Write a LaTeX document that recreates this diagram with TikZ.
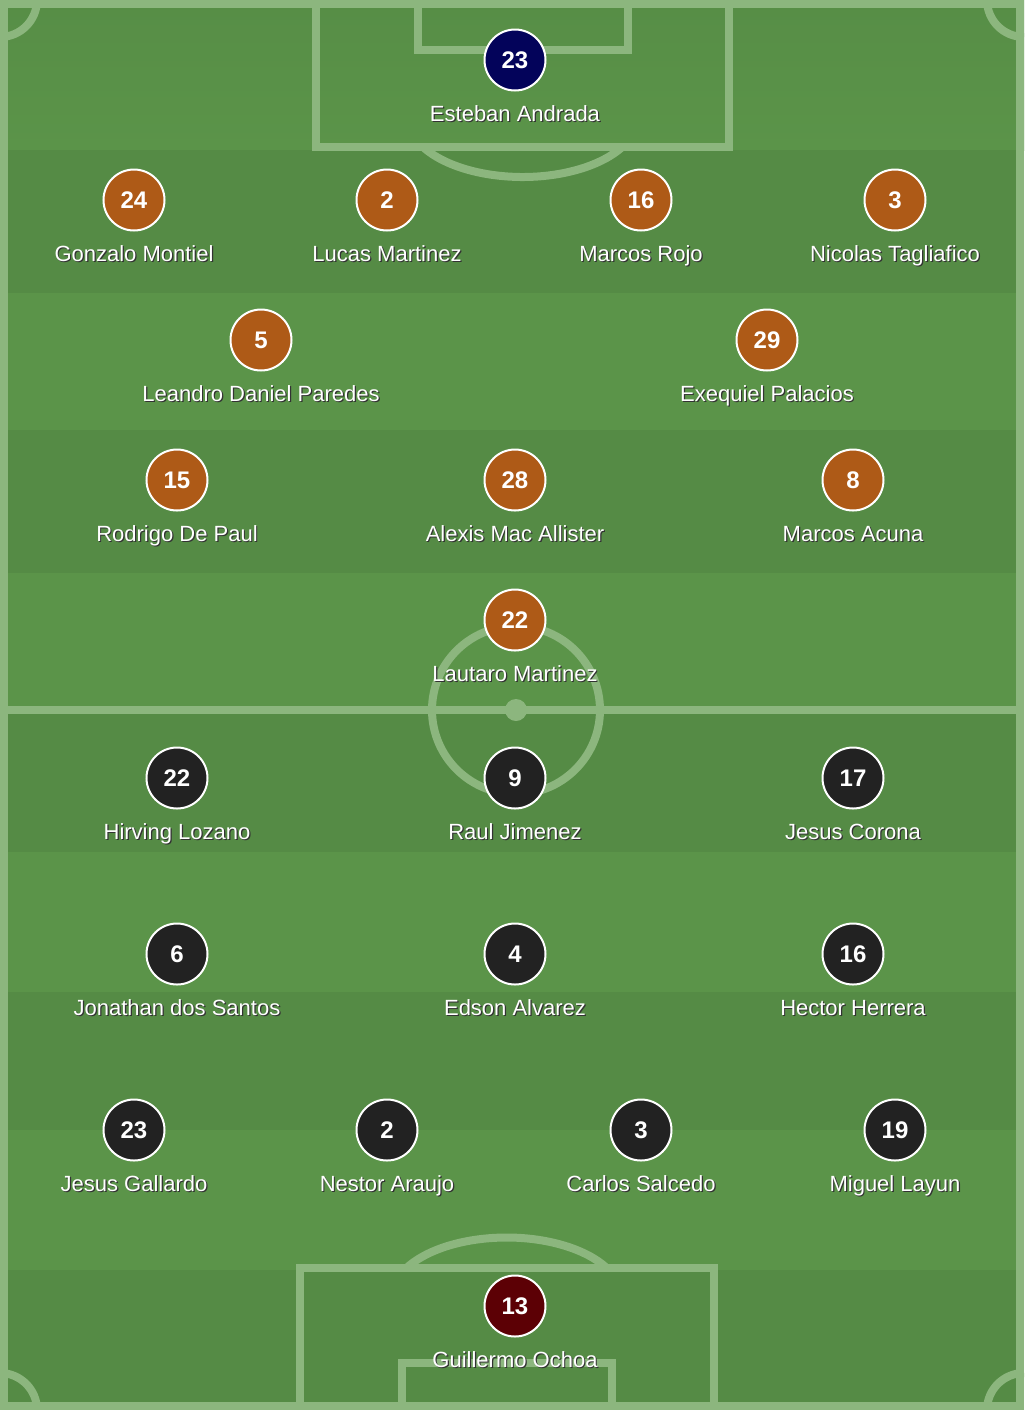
\documentclass[tikz,border=0pt]{standalone}
\usepackage{fontspec}
\setmainfont{Liberation Sans}
\definecolor{turfdark}{HTML}{558B45}
\definecolor{turflight}{HTML}{5B9449}
\definecolor{chalk}{HTML}{8CB67E}
\definecolor{argkit}{HTML}{AE5A17}
\definecolor{argkeeper}{HTML}{03035A}
\definecolor{mexkit}{HTML}{222222}
\definecolor{mexkeeper}{HTML}{5C0005}
\newcommand{\shadowname}[1]{\rlap{\kern0.6pt\raisebox{-0.8pt}{\textcolor{black!80}{#1}}}#1}
\begin{document}
\begin{tikzpicture}[x=0.5pt,y=-0.5pt,
  pitchline/.style={draw=chalk,line width=4pt},
  shirt/.style={circle,draw=white,line width=1pt,minimum size=30.5pt,inner sep=0pt,
    text=white,font=\fontsize{12}{14}\selectfont\bfseries},
  plabel/.style={anchor=base,text=white,inner sep=0pt,font=\fontsize{11}{13}\selectfont}]
\useasboundingbox (0,0) rectangle (1024,1410);
% turf
\fill[turflight] (0,0) rectangle (1024,1410);
\shade[top color=turfdark!70!turflight,bottom color=turflight] (0,0) rectangle (1024,150);
\fill[turfdark] (0,150) rectangle (1024,293);
\fill[turfdark] (0,430) rectangle (1024,573);
\fill[turfdark] (0,710) rectangle (1024,852);
\fill[turfdark] (0,992) rectangle (1024,1130);
\fill[turfdark] (0,1270) rectangle (1024,1410);
% markings
\draw[pitchline] (4,4) rectangle (1020,1406);
\draw[pitchline] (0,710) -- (1024,710);
\draw[pitchline] (516,710) circle (84);
\fill[chalk] (516,710) circle (11);
\draw[pitchline] (316,0) -- (316,147) -- (729,147) -- (729,0);
\draw[pitchline] (418,0) -- (418,50) -- (628,50) -- (628,0);
\draw[pitchline] (423,147) arc[start angle=150,end angle=30,x radius=115,y radius=60];
\draw[pitchline] (300,1410) -- (300,1267.5) -- (714,1267.5) -- (714,1410);
\draw[pitchline] (402,1410) -- (402,1363) -- (612,1363) -- (612,1410);
\draw[pitchline] (407,1267.5) arc[start angle=210,end angle=330,x radius=115,y radius=60];
\draw[pitchline] (37,0) arc[start angle=0,end angle=90,radius=37];
\draw[pitchline] (987,0) arc[start angle=180,end angle=90,radius=37];
\draw[pitchline] (0,1373) arc[start angle=270,end angle=360,radius=37];
\draw[pitchline] (987,1410) arc[start angle=180,end angle=270,radius=37];
% Argentina
\node[shirt,fill=argkeeper] (arg23) at (515,60) {23};
\node[plabel] (arg23lbl) at (515,121) {\shadowname{Esteban Andrada}};
\node[shirt,fill=argkit] (arg24) at (134,200) {24};
\node[plabel] (arg24lbl) at (134,261) {\shadowname{Gonzalo Montiel}};
\node[shirt,fill=argkit] (arg2) at (387,200) {2};
\node[plabel] (arg2lbl) at (387,261) {\shadowname{Lucas Martinez}};
\node[shirt,fill=argkit] (arg16) at (641,200) {16};
\node[plabel] (arg16lbl) at (641,261) {\shadowname{Marcos Rojo}};
\node[shirt,fill=argkit] (arg3) at (895,200) {3};
\node[plabel] (arg3lbl) at (895,261) {\shadowname{Nicolas Tagliafico}};
\node[shirt,fill=argkit] (arg5) at (261,340) {5};
\node[plabel] (arg5lbl) at (261,401) {\shadowname{Leandro Daniel Paredes}};
\node[shirt,fill=argkit] (arg29) at (767,340) {29};
\node[plabel] (arg29lbl) at (767,401) {\shadowname{Exequiel Palacios}};
\node[shirt,fill=argkit] (arg15) at (177,480) {15};
\node[plabel] (arg15lbl) at (177,541) {\shadowname{Rodrigo De Paul}};
\node[shirt,fill=argkit] (arg28) at (515,480) {28};
\node[plabel] (arg28lbl) at (515,541) {\shadowname{Alexis Mac Allister}};
\node[shirt,fill=argkit] (arg8) at (853,480) {8};
\node[plabel] (arg8lbl) at (853,541) {\shadowname{Marcos Acuna}};
\node[shirt,fill=argkit] (arg22) at (515,620) {22};
\node[plabel] (arg22lbl) at (515,681) {\shadowname{Lautaro Martinez}};
% Mexico
\node[shirt,fill=mexkit] (mex22) at (177,778) {22};
\node[plabel] (mex22lbl) at (177,839) {\shadowname{Hirving Lozano}};
\node[shirt,fill=mexkit] (mex9) at (515,778) {9};
\node[plabel] (mex9lbl) at (515,839) {\shadowname{Raul Jimenez}};
\node[shirt,fill=mexkit] (mex17) at (853,778) {17};
\node[plabel] (mex17lbl) at (853,839) {\shadowname{Jesus Corona}};
\node[shirt,fill=mexkit] (mex6) at (177,954) {6};
\node[plabel] (mex6lbl) at (177,1015) {\shadowname{Jonathan dos Santos}};
\node[shirt,fill=mexkit] (mex4) at (515,954) {4};
\node[plabel] (mex4lbl) at (515,1015) {\shadowname{Edson Alvarez}};
\node[shirt,fill=mexkit] (mex16) at (853,954) {16};
\node[plabel] (mex16lbl) at (853,1015) {\shadowname{Hector Herrera}};
\node[shirt,fill=mexkit] (mex23) at (134,1130) {23};
\node[plabel] (mex23lbl) at (134,1191) {\shadowname{Jesus Gallardo}};
\node[shirt,fill=mexkit] (mex2) at (387,1130) {2};
\node[plabel] (mex2lbl) at (387,1191) {\shadowname{Nestor Araujo}};
\node[shirt,fill=mexkit] (mex3) at (641,1130) {3};
\node[plabel] (mex3lbl) at (641,1191) {\shadowname{Carlos Salcedo}};
\node[shirt,fill=mexkit] (mex19) at (895,1130) {19};
\node[plabel] (mex19lbl) at (895,1191) {\shadowname{Miguel Layun}};
\node[shirt,fill=mexkeeper] (mex13) at (515,1306) {13};
\node[plabel] (mex13lbl) at (515,1367) {\shadowname{Guillermo Ochoa}};
\end{tikzpicture}
\end{document}
